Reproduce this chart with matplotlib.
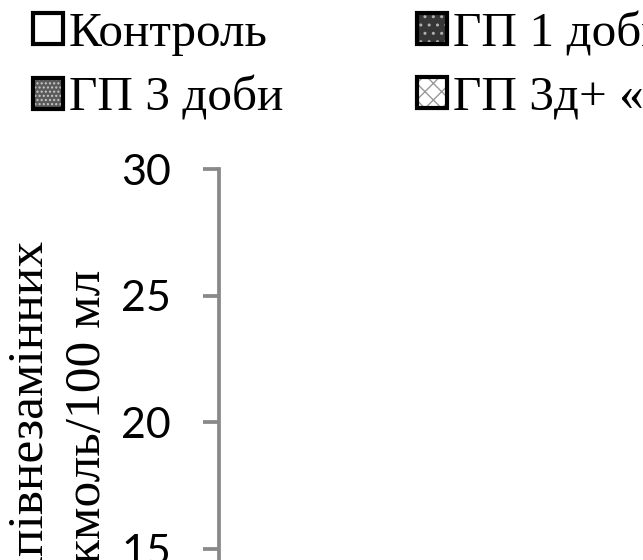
import matplotlib
matplotlib.use("Agg")
import matplotlib.pyplot as plt
from matplotlib.patches import Patch
from matplotlib.legend_handler import HandlerTuple
from matplotlib.font_manager import FontProperties

# Series shown in the chart legend (Excel-style, filled row by row)
series = ["Контроль", "ГП 1 доби", "ГП 3 доби", "ГП 3д+ «Корвітин»"]
y_ticks = [0, 5, 10, 15, 20, 25, 30]
y_min, y_max = 0, 30
ylabel_lines = ["Вміст напівнезамінних", "амінокислот, мкмоль/100 мл"]

serif = FontProperties(family="Liberation Serif", size=35.5)
serif_title = FontProperties(family="Liberation Serif", size=37)

fig = plt.figure(figsize=(6.43, 5.6), dpi=100)
fig.patch.set_facecolor("white")

# Value axis: only the left spine with outward grey ticks
ax = fig.add_axes([219 / 643, -0.659, 2.0, 1.357])
ax.set_ylim(y_min, y_max)
ax.set_yticks(y_ticks)
ax.set_xticks([])
for side in ("top", "right", "bottom"):
    ax.spines[side].set_visible(False)
ax.spines["left"].set_color("#898989")
ax.spines["left"].set_linewidth(2.7)
ax.tick_params(axis="y", direction="out", length=11.5, width=2.7,
               color="#898989", pad=23, labelsize=31)
for lab in ax.get_yticklabels():
    lab.set_fontfamily("Lato")
    lab.set_color("black")
    lab.set_verticalalignment("center_baseline")

# Two-line rotated axis title
fig.text(43 / 643, (560 - 241) / 560, ylabel_lines[0], fontproperties=serif_title,
         rotation=90, rotation_mode="anchor", ha="right", va="baseline")
fig.text(100 / 643, (560 - 270) / 560, ylabel_lines[1], fontproperties=serif_title,
         rotation=90, rotation_mode="anchor", ha="right", va="baseline")

# Legend swatches: fill, hatch overlay and black frame stacked together
edge_lw = 3.0


def swatch(face, hatch=None, hatch_color=None):
    parts = [Patch(facecolor=face, edgecolor="none", linewidth=0)]
    if hatch:
        parts.append(Patch(facecolor="none", edgecolor=hatch_color,
                           hatch=hatch, linewidth=0))
    parts.append(Patch(facecolor="none", edgecolor="black", linewidth=edge_lw))
    return tuple(parts)


styles = {
    "Контроль": swatch("white"),
    "ГП 1 доби": swatch("#363636", "..", "#b0b0b0"),
    "ГП 3 доби": swatch("#5a5a5a", "....", "#c8c8c8"),
    "ГП 3д+ «Корвітин»": swatch("white", "xx", "#9a9a9a"),
}

# matplotlib fills legend columns first, so reorder to get rows
order = [series[0], series[2], series[1], series[3]]
handles = [styles[s] for s in order]

fig.legend(handles, order, ncols=2, loc="upper left",
           bbox_to_anchor=(33 / 643, 1 - 11 / 560),
           bbox_transform=fig.transFigure, frameon=False,
           borderpad=0, borderaxespad=0,
           handlelength=0.6, handleheight=0.6, handletextpad=0.13,
           columnspacing=2.72, labelspacing=0.4, prop=serif,
           handler_map={tuple: HandlerTuple(ndivide=1, pad=0)})

fig.savefig("out.png", dpi=100, facecolor="white")
